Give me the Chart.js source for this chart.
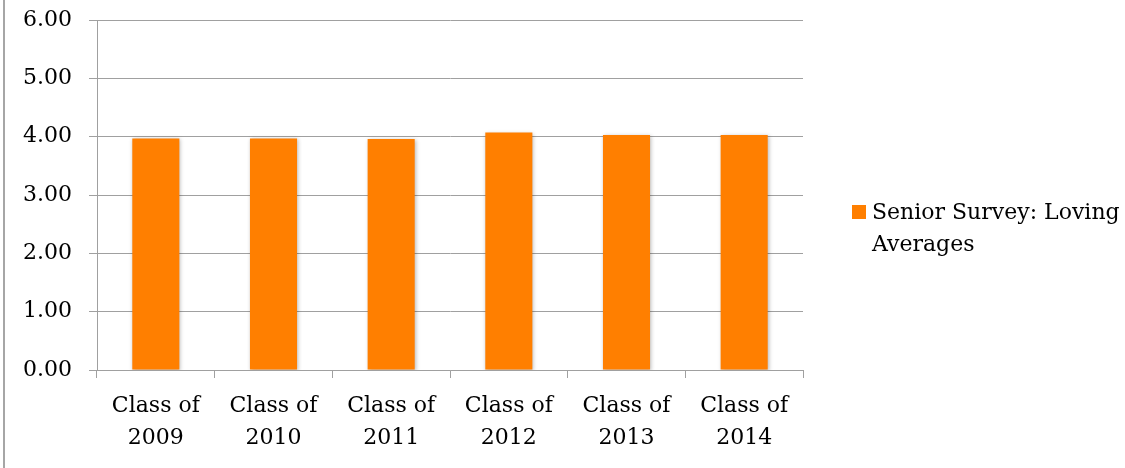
<!DOCTYPE html>
<html>
<head>
<meta charset="utf-8">
<script src="https://cdn.jsdelivr.net/npm/chart.js@4/dist/chart.umd.min.js"></script>
<style>
  html, body { margin: 0; padding: 0; background: #fff; }
  #wrap { width: 1125px; height: 468px; position: relative; }
</style>
</head>
<body>
<div id="wrap"><canvas id="chart"></canvas></div>
<script>
// Data
const categories = [
  ['Class of', '2009'],
  ['Class of', '2010'],
  ['Class of', '2011'],
  ['Class of', '2012'],
  ['Class of', '2013'],
  ['Class of', '2014'],
];
const seriesName = 'Senior Survey: Loving Averages';
const averages = [3.97, 3.97, 3.96, 4.07, 4.03, 4.03];
const yTicks = [0, 1, 2, 3, 4, 5, 6];

const FONT = "'DejaVu Serif', serif";
const GRID = '#a0a0a0';
const BAR = '#ff7f00';

// left frame edge of the original chart box
const framePlugin = {
  id: 'frame',
  beforeDraw(chart) {
    const ctx = chart.ctx;
    ctx.save();
    ctx.fillStyle = '#ffffff';
    ctx.fillRect(0, 0, chart.width, chart.height);
    ctx.strokeStyle = '#a6a6a6';
    ctx.lineWidth = 2;
    ctx.beginPath();
    ctx.moveTo(4, 0);
    ctx.lineTo(4, chart.height);
    ctx.stroke();
    ctx.restore();
  },
};

// soft shadow under the bars
const shadowPlugin = {
  id: 'barShadow',
  beforeDatasetsDraw(chart) {
    const ctx = chart.ctx;
    ctx.save();
    ctx.shadowColor = 'rgba(0,0,0,0.28)';
    ctx.shadowBlur = 4;
    ctx.shadowOffsetX = 1;
    ctx.shadowOffsetY = 1;
  },
  afterDatasetsDraw(chart) {
    chart.ctx.restore();
  },
};

// legend on the right, wrapped on two lines like the original
const legendPlugin = {
  id: 'sideLegend',
  afterDraw(chart) {
    const ctx = chart.ctx;
    const ds = chart.data.datasets[0];
    const words = ds.label.split(' ');
    const lines = [words.slice(0, 3).join(' '), words.slice(3).join(' ')];
    const x = chart.chartArea.right + 49;
    const y = 205;
    ctx.save();
    ctx.fillStyle = ds.backgroundColor;
    ctx.fillRect(x, y, 14, 14);
    ctx.fillStyle = '#000';
    ctx.font = '22px ' + FONT;
    ctx.textBaseline = 'middle';
    ctx.textAlign = 'left';
    lines.forEach((line, i) => {
      ctx.fillText(line, x + 20, y + 8 + i * 32);
    });
    ctx.restore();
  },
};

const ctx = document.getElementById('chart').getContext('2d');
new Chart(ctx, {
  type: 'bar',
  data: {
    labels: categories,
    datasets: [
      {
        label: seriesName,
        data: averages,
        backgroundColor: BAR,
        borderWidth: 0,
        barPercentage: 0.4,
        categoryPercentage: 1.0,
      },
    ],
  },
  plugins: [framePlugin, shadowPlugin, legendPlugin],
  options: {
    responsive: true,
    maintainAspectRatio: false,
    animation: false,
    layout: {
      padding: { top: 20, right: 322, bottom: 0, left: 0 },
    },
    plugins: {
      legend: { display: false },
      tooltip: { enabled: false },
      title: { display: false },
    },
    scales: {
      x: {
        grid: {
          offset: true,
          drawOnChartArea: false,
          drawTicks: true,
          tickLength: 8,
          color: GRID,
        },
        border: { display: true, color: GRID, width: 1 },
        ticks: {
          color: '#000',
          font: { family: FONT, size: 22, lineHeight: 1.45 },
          padding: 12,
          maxRotation: 0,
          autoSkip: false,
        },
        afterFit(scale) {
          scale.height = 98;
          scale.paddingLeft = 0;
          scale.paddingRight = 0;
        },
      },
      y: {
        min: 0,
        max: 6,
        afterBuildTicks(scale) {
          scale.ticks = yTicks.map((v) => ({ value: v }));
        },
        grid: {
          color: GRID,
          tickLength: 8,
          drawTicks: true,
        },
        border: { display: true, color: GRID, width: 1 },
        ticks: {
          color: '#000',
          font: { family: FONT, size: 22 },
          padding: 17,
          callback: (v) => Number(v).toFixed(2),
        },
        afterFit(scale) {
          scale.width = 97;
          scale.paddingTop = 0;
          scale.paddingBottom = 0;
        },
      },
    },
  },
});
</script>
</body>
</html>
